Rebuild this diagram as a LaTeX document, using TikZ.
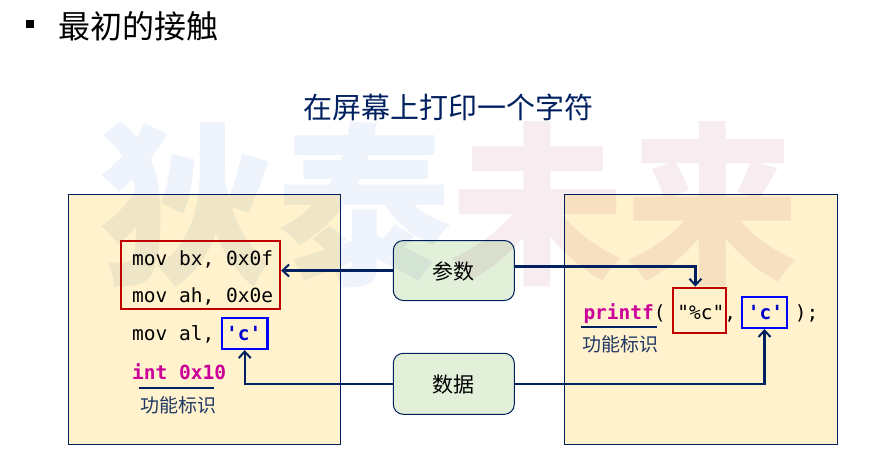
\documentclass[tikz,border=0pt]{standalone}
\usepackage{fontspec}
\usepackage{xcolor}
\setmainfont{Noto Sans CJK SC}
\newfontfamily\cjk{Noto Sans CJK SC}
\newfontfamily\codefont{DejaVu Sans Mono}
\usetikzlibrary{arrows.meta}
\definecolor{navy}{HTML}{002060}
\definecolor{panelfill}{HTML}{FFF2CC}
\definecolor{greenfill}{HTML}{E2F0D9}
\definecolor{redline}{HTML}{C00000}
\definecolor{blueline}{HTML}{0000FF}
\definecolor{kw}{HTML}{CC0099}
\definecolor{chr}{HTML}{0000CC}
\definecolor{wmblue}{HTML}{EFF3FB}
\definecolor{wmpink}{HTML}{F7EDF1}
\definecolor{lab}{HTML}{1F3864}
\tikzset{
  panel/.style={draw=navy,line width=1pt,fill=panelfill,rectangle,inner sep=0pt},
  tagbox/.style={draw=navy,line width=1pt,fill=greenfill,rectangle,rounded corners=10pt,inner sep=0pt,minimum width=121pt},
  taglabel/.style={inner sep=0pt,text=black,font=\cjk\fontsize{21pt}{24pt}\selectfont},
  redbox/.style={draw=redline,line width=2.2pt,rectangle,inner sep=0pt},
  bluebox/.style={draw=blueline,line width=2.2pt,rectangle,inner sep=0pt,minimum width=45.5pt,minimum height=31pt},
  code/.style={anchor=base west,inner sep=0pt,font=\codefont\fontsize{19.5pt}{22pt}\selectfont},
  note/.style={inner sep=0pt,text=lab,font=\cjk\fontsize{19pt}{22pt}\selectfont},
  rule/.style={draw=navy,line width=2pt},
  conn/.style={draw=navy,line width=2.2pt,-{Straight Barb[length=6.5pt,width=12pt,line width=2pt]}},
  wm/.style={inner sep=0pt,font=\cjk\bfseries\fontsize{174pt}{174pt}\selectfont},
}
\begin{document}
\begin{tikzpicture}[x=1pt,y=-1pt]
\useasboundingbox (0,0) rectangle (869,461);
\fill[white] (0,0) rectangle (869,461);
\node[panel,minimum width=272pt,minimum height=250pt] (lp) at (204.4,319.5) {};
\node[panel,minimum width=273pt,minimum height=250pt] (rp) at (700.8,319.5) {};
\node[tagbox,minimum height=60pt] (pa) at (453.8,270.5) {};
\node[tagbox,minimum height=61pt] (da) at (453.8,383.8) {};
\begin{scope}[blend mode=multiply]
\node[wm,text=wmblue] (w1) at (186,204.5) {狄};
\node[wm,text=wmblue] (w2) at (364,204.5) {泰};
\node[wm,text=wmpink] (w3) at (537,204.5) {未};
\node[wm,text=wmpink] (w4) at (712,204.5) {来};
\end{scope}
\node[taglabel] (pat) at (453.8,271) {参数};
\node[taglabel] (dat) at (453.8,384.5) {数据};
\node[fill=black,minimum size=8pt,inner sep=0pt] (bul) at (29.5,23.5) {};
\node[inner sep=0pt,anchor=west,font=\cjk\fontsize{32pt}{36pt}\selectfont] (head) at (58,26) {最初的接触};
\node[inner sep=0pt,text=navy,font=\cjk\fontsize{29pt}{32pt}\selectfont] (title) at (448,107) {在屏幕上打印一个字符};
\node[redbox,minimum width=159pt,minimum height=68pt] (lr) at (200.5,275) {};
\node[bluebox] (lb) at (244.7,333.5) {};
\node[redbox,minimum width=53.5pt,minimum height=45.5pt] (rr) at (699.6,310.5) {};
\node[bluebox] (rb) at (764.5,312.4) {};
\node[code] (c1) at (132,265) {mov bx, 0x0f};
\node[code] (c2) at (132,302.7) {mov ah, 0x0e};
\node[code] (c3) at (132,340.7) {mov al, \textcolor{chr}{\bfseries 'c'}};
\node[code,text=kw] (c4) at (132,379) {\bfseries int 0x10};
\node[code] (c5) at (583.3,319.3) {\textcolor{kw}{\bfseries printf}( "\%c", \textcolor{chr}{\bfseries 'c'} );};
\coordinate (u1a) at (139,387.7);
\coordinate (u1b) at (214.3,387.7);
\coordinate (u2a) at (581,327.3);
\coordinate (u2b) at (656.7,327.3);
\draw[rule] (u1a) -- (u1b);
\draw[rule] (u2a) -- (u2b);
\node[note] (n1) at (178,405) {功能标识};
\node[note] (n2) at (620,344) {功能标识};
\draw[conn] (pa.west) -- (pa.west -| lr.east);
\draw[conn] (da.west) -| (lb.south);
\coordinate (pae) at ([yshift=4.1pt]pa.east);
\coordinate (rrn) at ([xshift=-4.2pt]rr.north);
\draw[conn] (pae) -| (rrn);
\draw[conn] (da.east) -| (rb.south);
\end{tikzpicture}
\end{document}
